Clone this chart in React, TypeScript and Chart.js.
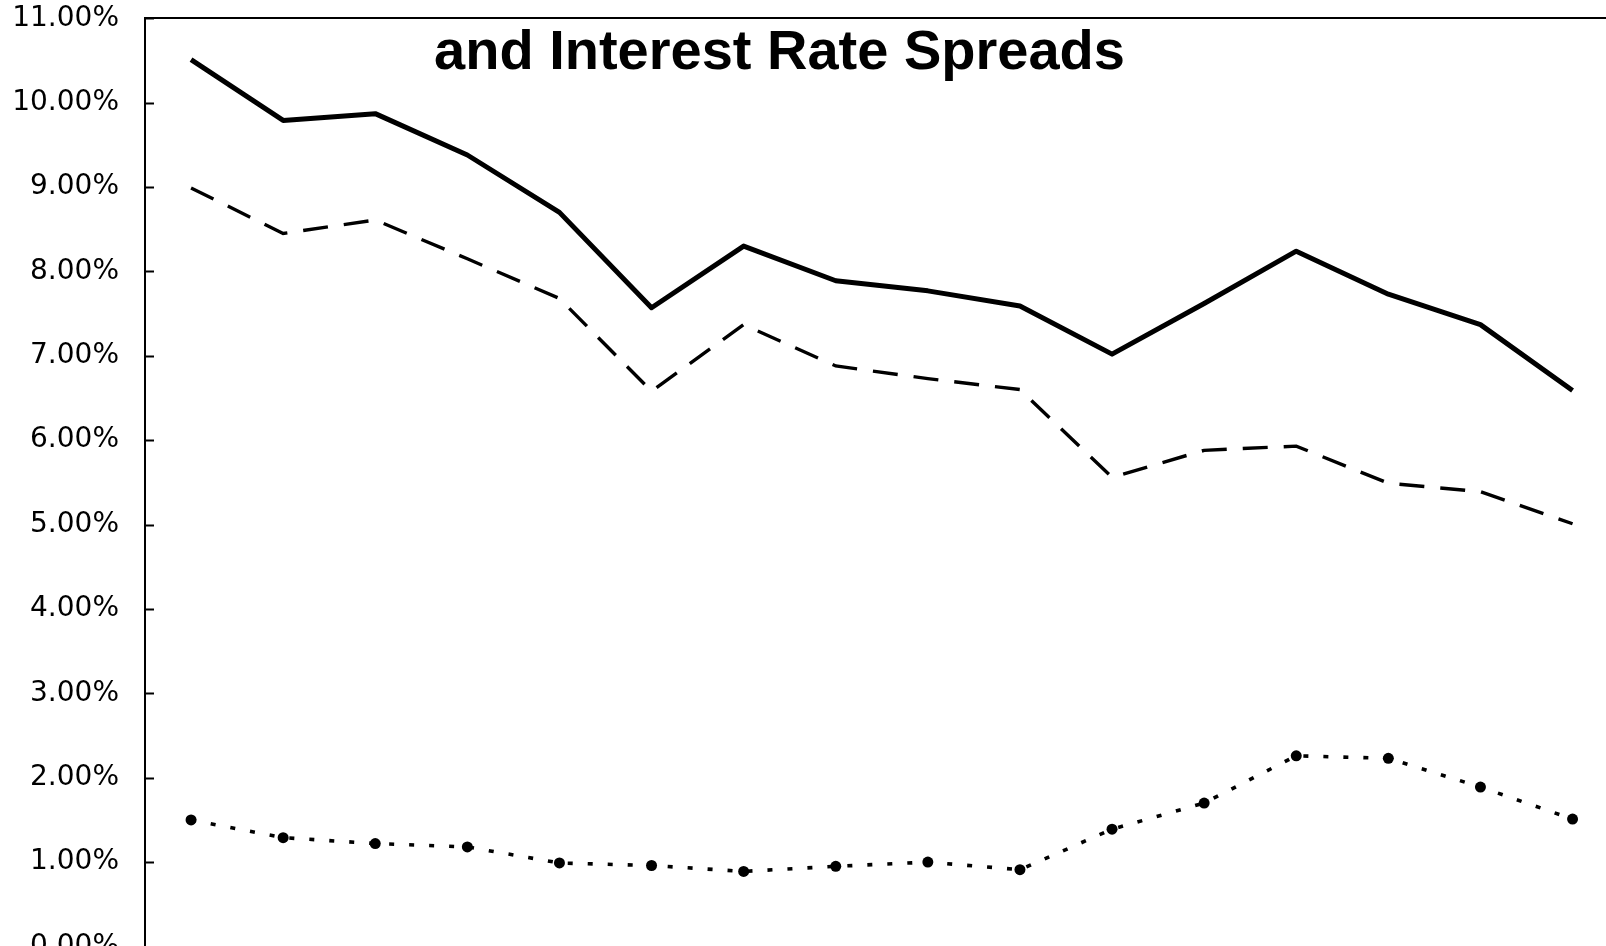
import React, { useEffect, useRef } from "react";
import { Chart, registerables } from "chart.js";

Chart.register(...registerables);

// Periods (x labels are cut off in the reference, so they are not displayed)
const categories = [
  "P1", "P2", "P3", "P4", "P5", "P6", "P7", "P8",
  "P9", "P10", "P11", "P12", "P13", "P14", "P15", "P16",
];

// Series values (%)
const yieldSeries = [10.51, 9.79, 9.87, 9.38, 8.70, 7.57, 8.30, 7.89, 7.77, 7.59, 7.02, 7.62, 8.24, 7.73, 7.37, 6.59];
const costSeries = [8.99, 8.45, 8.61, 8.15, 7.68, 6.58, 7.37, 6.88, 6.73, 6.60, 5.56, 5.88, 5.93, 5.49, 5.39, 5.01];
const spreadSeries = [1.50, 1.29, 1.22, 1.18, 0.99, 0.96, 0.89, 0.95, 1.00, 0.91, 1.39, 1.70, 2.26, 2.23, 1.89, 1.51];

const titleLine = "and Interest Rate Spreads";
const yMin = 0;
const yMax = 11;
const yStep = 1;

const overlayPlugin = {
  id: "overlay",
  afterDraw(chart: any) {
    const { ctx, chartArea, scales } = chart;
    const y = scales.y;
    ctx.save();
    // inward tick marks
    ctx.strokeStyle = "#000";
    ctx.lineWidth = 2;
    for (const t of y.ticks) {
      const py = Math.round(y.getPixelForValue(t.value)) + 0.5;
      ctx.beginPath();
      ctx.moveTo(chartArea.left, py);
      ctx.lineTo(chartArea.left + 9, py);
      ctx.stroke();
    }
    // title line
    ctx.fillStyle = "#000";
    ctx.font = 'bold 56px "Liberation Sans", Arial, sans-serif';
    ctx.textAlign = "center";
    ctx.textBaseline = "alphabetic";
    ctx.fillText(titleLine, chartArea.left + 634.5, chartArea.top + 50.3);
    ctx.restore();
  },
};

export default function App() {
  const ref = useRef<HTMLCanvasElement>(null);

  useEffect(() => {
    const canvas = ref.current!;
    const chart = new Chart(canvas, {
      type: "line",
      data: {
        labels: categories,
        datasets: [
          {
            label: "Yield",
            data: yieldSeries,
            borderColor: "#000",
            borderWidth: 5,
            pointRadius: 0,
            tension: 0,
            fill: false,
            borderJoinStyle: "round",
          },
          {
            label: "Cost",
            data: costSeries,
            borderColor: "#000",
            borderWidth: 3.4,
            borderDash: [25, 16],
            pointRadius: 0,
            tension: 0,
            fill: false,
          },
          {
            label: "Spread",
            data: spreadSeries,
            borderColor: "#000",
            borderWidth: 3.6,
            borderDash: [5, 15],
            pointRadius: 5.5,
            pointBackgroundColor: "#000",
            pointBorderWidth: 0,
            tension: 0,
            fill: false,
          },
        ],
      },
      options: {
        animation: false,
        responsive: false,
        devicePixelRatio: 1,
        layout: { padding: { left: 0, top: 18.3, right: 21.4, bottom: 53.5 } },
        plugins: {
          legend: { display: false },
          tooltip: { enabled: false },
          title: { display: false },
        },
        scales: {
          x: {
            type: "category",
            offset: true,
            ticks: { display: false },
            grid: { display: false, drawTicks: false },
            border: { display: true, color: "#000", width: 2 },
          },
          xTop: {
            type: "category",
            axis: "x",
            position: "top",
            offset: true,
            ticks: { display: false },
            grid: { display: false, drawTicks: false },
            border: { display: true, color: "#000", width: 2 },
          },
          y: {
            min: yMin,
            max: yMax,
            afterFit: (s: any) => {
              s.width = 145;
              s.paddingTop = 0;
              s.paddingBottom = 0;
            },
            ticks: {
              stepSize: yStep,
              padding: 26,
              color: "#000",
              font: { family: '"DejaVu Sans", sans-serif', size: 28 },
              callback: (v: any) => Number(v).toFixed(2) + "%",
            },
            grid: { display: false, drawTicks: false },
            border: { display: true, color: "#000", width: 2 },
          },
        } as any,
      },
      plugins: [overlayPlugin],
    });
    return () => chart.destroy();
  }, []);

  return (
    <div
      style={{
        position: "fixed",
        left: 0,
        top: 0,
        width: 1606,
        height: 946,
        overflow: "hidden",
        background: "#fff",
      }}
    >
      <canvas ref={ref} width={1640} height={1000} style={{ display: "block" }} />
    </div>
  );
}
